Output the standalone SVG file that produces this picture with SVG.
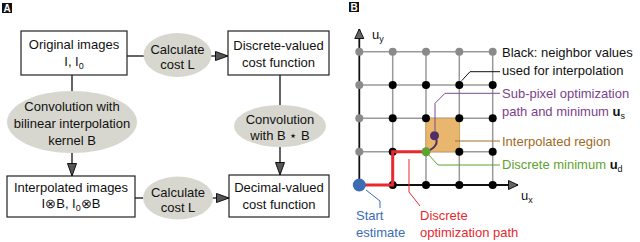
<svg xmlns="http://www.w3.org/2000/svg" width="640" height="242" viewBox="0 0 640 242">
<defs>
<style>
text{font-family:"Liberation Sans",Arial,sans-serif;font-size:13px;fill:#111}
.c{text-anchor:middle}
.box{fill:#fff;stroke:#222;stroke-width:1.2}
.ell{fill:#d7d7cf;stroke:none}
.ln{stroke:#111;stroke-width:1.3;fill:none}
.arr{stroke:#111;stroke-width:1.3;fill:none;marker-end:url(#ah)}
.lab{fill:#fff;font-weight:bold;font-size:10px}
.grid{stroke:#9a9a9a;stroke-width:1.5;fill:none}
.axis{stroke:#111;stroke-width:1.8;fill:none;marker-end:url(#ax)}
.gd{fill:#8a8a8a}
.bd{fill:#000}
.sub{font-size:9px}
</style>
<marker id="ah" markerUnits="userSpaceOnUse" markerWidth="14" markerHeight="11" refX="13" refY="5" orient="auto">
<path d="M0.5,0.5 L13,5 L0.5,9.5 z" fill="#555" stroke="#111" stroke-width="1"/>
</marker>
<marker id="ax" markerUnits="userSpaceOnUse" markerWidth="12" markerHeight="11" refX="10" refY="5" orient="auto">
<path d="M0.5,0.5 L10,5 L0.5,9.5 z" fill="#666" stroke="#111" stroke-width="1"/>
</marker>
</defs>

<!-- Panel labels -->
<g id="labelA"><rect x="2" y="3" width="10" height="10" fill="#111"/><text x="7" y="11.5" class="c lab">A</text></g>
<g id="labelB"><rect x="349" y="2" width="10" height="10" fill="#111"/><text x="354" y="10.5" class="c lab">B</text></g>

<!-- Panel A connectors -->
<g id="connectors">
<line class="ln" x1="72" y1="75" x2="72" y2="91"/>
<line class="arr" x1="72" y1="153" x2="72" y2="176"/>
<line class="ln" x1="127" y1="56" x2="144" y2="56"/>
<line class="arr" x1="211" y1="56" x2="228" y2="56"/>
<line class="ln" x1="280" y1="75" x2="280" y2="105"/>
<line class="arr" x1="280" y1="147" x2="280" y2="175"/>
<line class="ln" x1="135" y1="198" x2="143" y2="198"/>
<line class="arr" x1="212" y1="198" x2="229" y2="198"/>
</g>

<g id="original">
<rect class="box" x="21" y="31" width="106" height="44"/>
<text x="74" y="49" class="c">Original images</text>
<text x="74" y="66" class="c">I, I<tspan class="sub" dy="3">0</tspan></text>
</g>
<g id="calcTop">
<ellipse class="ell" cx="177.5" cy="55" rx="34" ry="22"/>
<text x="177.5" y="54" class="c">Calculate</text>
<text x="177.5" y="69" class="c">cost L</text>
</g>
<g id="discrete">
<rect class="box" x="228" y="31" width="101" height="44"/>
<text x="278.5" y="50" class="c">Discrete-valued</text>
<text x="278.5" y="67" class="c">cost function</text>
</g>
<g id="convLeft">
<ellipse class="ell" cx="72" cy="122" rx="65" ry="31"/>
<text x="72" y="111" class="c">Convolution with</text>
<text x="72" y="128" class="c">bilinear interpolation</text>
<text x="72" y="145" class="c">kernel B</text>
</g>
<g id="convRight">
<ellipse class="ell" cx="280" cy="126" rx="46" ry="21"/>
<text x="280" y="124" class="c">Convolution</text>
<text x="280" y="140" class="c">with B ⋆ B</text>
</g>
<g id="interp">
<rect class="box" x="7" y="176" width="128" height="41"/>
<text x="71" y="192" class="c">Interpolated images</text>
<text x="71" y="208" class="c">I⊗B, I<tspan class="sub" dy="3">0</tspan><tspan dy="-3">⊗B</tspan></text>
</g>
<g id="calcBottom">
<ellipse class="ell" cx="178" cy="198" rx="35" ry="21.5"/>
<text x="178" y="197" class="c">Calculate</text>
<text x="178" y="212" class="c">cost L</text>
</g>
<g id="decimal">
<rect class="box" x="229" y="175" width="100" height="42"/>
<text x="279" y="192" class="c">Decimal-valued</text>
<text x="279" y="209" class="c">cost function</text>
</g>

<!-- Panel B -->
<g id="grid">
<path class="grid" d="M359.3,51.7H492.7M359.3,85H492.7M359.3,118.3H492.7M359.3,151.7H492.7M392.7,51.7V185M426,51.7V185M459.3,51.7V185M492.7,51.7V185"/>
<rect x="426" y="118.3" width="33.3" height="33.4" fill="#e8b66c" stroke="#d9a458" stroke-width="0.8"/>
<line class="axis" x1="359.3" y1="186" x2="359.3" y2="29"/>
<line class="axis" x1="358.5" y1="185" x2="518" y2="185"/>
<text x="372" y="39">u<tspan class="sub" dy="3">y</tspan></text>
<text x="521" y="200">u<tspan class="sub" dy="3">x</tspan></text>
</g>
<g id="dots">
<circle class="gd" cx="359.3" cy="51.7" r="4"/><circle class="gd" cx="392.7" cy="51.7" r="4"/><circle class="gd" cx="426" cy="51.7" r="4"/><circle class="gd" cx="459.3" cy="51.7" r="4"/><circle class="gd" cx="492.7" cy="51.7" r="4"/>
<circle class="gd" cx="359.3" cy="85" r="4"/><circle class="bd" cx="392.7" cy="85" r="4"/><circle class="bd" cx="426" cy="85" r="4"/><circle class="bd" cx="459.3" cy="85" r="4"/><circle class="bd" cx="492.7" cy="85" r="4"/>
<circle class="gd" cx="359.3" cy="118.3" r="4"/><circle class="bd" cx="392.7" cy="118.3" r="4"/><circle class="bd" cx="426" cy="118.3" r="4"/><circle class="bd" cx="459.3" cy="118.3" r="4"/><circle class="bd" cx="492.7" cy="118.3" r="4"/>
<circle class="gd" cx="359.3" cy="151.7" r="4"/><circle class="bd" cx="392.7" cy="151.7" r="4"/><circle class="bd" cx="459.3" cy="151.7" r="4"/><circle class="bd" cx="492.7" cy="151.7" r="4"/>
<circle class="bd" cx="392.7" cy="185" r="4"/><circle class="bd" cx="426" cy="185" r="4"/><circle class="bd" cx="459.3" cy="185" r="4"/><circle class="bd" cx="492.7" cy="185" r="4"/>
</g>
<g id="path">
<path d="M359.3,185H392.7V151.7H426" fill="none" stroke="#e8282e" stroke-width="3"/>
<path d="M426,151.7C434,149 440,143 434.5,136" fill="none" stroke="#4f2f66" stroke-width="2"/>
<circle cx="434.5" cy="135.7" r="4.5" fill="#4f2f66"/>
<circle cx="426" cy="151.7" r="4.5" fill="#5ea22f"/>
<circle cx="359.3" cy="185" r="6.5" fill="#3b6cb4"/>
</g>
<g id="leaders">
<path d="M461.7,80.7L470,71.7H500" fill="none" stroke="#111" stroke-width="1"/>
<path d="M435,131V103.3L445,93.3H500" fill="none" stroke="#7b4b91" stroke-width="1"/>
<path d="M455,141H500" fill="none" stroke="#a0702a" stroke-width="1"/>
<path d="M427,153L438,165H500" fill="none" stroke="#5ea22f" stroke-width="1"/>
<path d="M366,190L380,201V208" fill="none" stroke="#3b6cb4" stroke-width="1"/>
<path d="M409,159V192L420,206" fill="none" stroke="#e8282e" stroke-width="1"/>
</g>
<g id="annotations">
<text x="502" y="57">Black: neighbor values</text>
<text x="502" y="75">used for interpolation</text>
<text x="502" y="98" fill="#7b3f8c" style="fill:#7b3f8c">Sub-pixel optimization</text>
<text x="502" y="116" style="fill:#7b3f8c">path and minimum <tspan font-weight="bold" style="fill:#111">u</tspan><tspan class="sub" dy="3" style="fill:#111">s</tspan></text>
<text x="502" y="146" style="fill:#a06a1e">Interpolated region</text>
<text x="502" y="169" style="fill:#5ea22f">Discrete minimum <tspan font-weight="bold" style="fill:#111">u</tspan><tspan class="sub" dy="3" style="fill:#111">d</tspan></text>
<text x="356" y="220" style="fill:#3b6cb4">Start</text>
<text x="356" y="237" style="fill:#3b6cb4">estimate</text>
<text x="420" y="220" style="fill:#e8282e">Discrete</text>
<text x="420" y="237" style="fill:#e8282e">optimization path</text>
</g>
</svg>
